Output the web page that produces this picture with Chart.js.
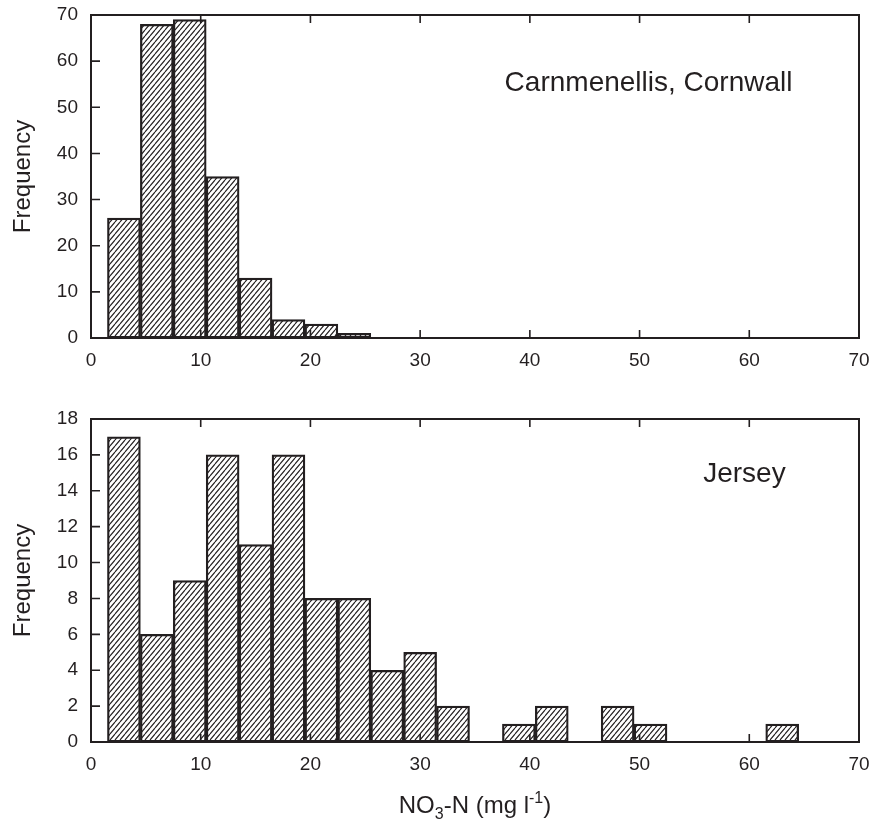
<!DOCTYPE html>
<html>
<head>
<meta charset="utf-8">
<script src="https://cdn.jsdelivr.net/npm/chart.js@4.4.0/dist/chart.umd.min.js"></script>
<style>
  body { margin: 0; background: #fff; }
  #wrap { position: relative; width: 885px; height: 831px; }
  canvas { position: absolute; left: 0; }
  #topChart { top: 0; }
  #bottomChart { top: 380px; }
</style>
</head>
<body>
<div id="wrap">
  <canvas id="topChart" width="885" height="380"></canvas>
  <canvas id="bottomChart" width="885" height="451"></canvas>
</div>
<script>
// --- data: NO3-N histograms, bins 3 mg/l wide ---
const binCentres = [3, 6, 9, 12, 15, 18, 21, 24, 27, 30, 33, 36, 39, 42, 45, 48, 51, 54, 57, 60, 63];
const cornwallFreq = [26, 68, 69, 35, 13, 4, 3, 1, 0, 0, 0, 0, 0, 0, 0, 0, 0, 0, 0, 0, 0];
const jerseyFreq = [17, 6, 9, 16, 11, 16, 8, 8, 4, 5, 2, 0, 1, 2, 0, 2, 1, 0, 0, 0, 1];
const xTicks = [0, 10, 20, 30, 40, 50, 60, 70];
const cornwallYTicks = [0, 10, 20, 30, 40, 50, 60, 70];
const jerseyYTicks = [0, 2, 4, 6, 8, 10, 12, 14, 16, 18];

const INK = '#231f20';
const FONT = '"Liberation Sans", Arial, Helvetica, sans-serif';

// diagonal hatch fill like the printed figure
function hatchPattern() {
    const w = 5, h = 6;
    const c = document.createElement('canvas');
    c.width = w; c.height = h;
    const g = c.getContext('2d');
    g.strokeStyle = INK;
    g.lineWidth = 1.15;
    g.beginPath();
    g.moveTo(0, h); g.lineTo(w, 0);
    g.moveTo(-w, h); g.lineTo(0, 0);
    g.moveTo(w, h); g.lineTo(2 * w, 0);
    g.stroke();
    return g.createPattern(c, 'repeat');
}

// box around the plot + ticks pointing inwards (left, top, bottom)
const frameTicks = {
    id: 'frameTicks',
    afterDraw(chart) {
        const { ctx, chartArea: a, scales: { x, y } } = chart;
        ctx.save();
        ctx.strokeStyle = INK;
        ctx.lineWidth = 1.6;
        ctx.beginPath();
        x.ticks.forEach(t => {
            const px = x.getPixelForValue(t.value);
            if (px <= a.left + 1 || px >= a.right - 1) return;
            ctx.moveTo(px, a.bottom); ctx.lineTo(px, a.bottom - 8);
            ctx.moveTo(px, a.top); ctx.lineTo(px, a.top + 8);
        });
        y.ticks.forEach(t => {
            const py = y.getPixelForValue(t.value);
            if (py <= a.top + 1 || py >= a.bottom - 1) return;
            ctx.moveTo(a.left, py); ctx.lineTo(a.left + 9, py);
        });
        ctx.stroke();
        ctx.lineWidth = 2;
        ctx.strokeRect(a.left, a.top, a.right - a.left, a.bottom - a.top);
        ctx.restore();
    }
};

// site name inside the panel, placed in data units
const panelLabel = {
    id: 'panelLabel',
    afterDraw(chart, args, opts) {
        if (!opts.text) return;
        const { ctx, scales: { x, y } } = chart;
        ctx.save();
        ctx.font = '28px ' + FONT;
        ctx.fillStyle = INK;
        ctx.textAlign = 'left';
        ctx.textBaseline = 'alphabetic';
        ctx.fillText(opts.text, x.getPixelForValue(opts.x), y.getPixelForValue(opts.y));
        ctx.restore();
    }
};

// x title with subscript / superscript: NO3-N (mg l-1)
const xTitle = {
    id: 'xTitle',
    afterDraw(chart, args, opts) {
        if (!opts.show) return;
        const { ctx, chartArea: a } = chart;
        const big = '24px ' + FONT, small = '16px ' + FONT;
        const parts = [
            { t: 'NO', f: big, dy: 0 },
            { t: '3', f: small, dy: 6 },
            { t: '-N (mg l', f: big, dy: 0 },
            { t: '-1', f: small, dy: -10 },
            { t: ')', f: big, dy: 0 }
        ];
        ctx.save();
        ctx.fillStyle = INK;
        ctx.textBaseline = 'alphabetic';
        ctx.textAlign = 'left';
        let total = 0;
        parts.forEach(p => { ctx.font = p.f; p.w = ctx.measureText(p.t).width; total += p.w; });
        let cx = (a.left + a.right) / 2 - total / 2;
        const base = a.bottom + opts.offset;
        parts.forEach(p => {
            ctx.font = p.f;
            ctx.fillText(p.t, cx, base + p.dy);
            cx += p.w;
        });
        ctx.restore();
    }
};

function makeChart(id, freq, yTicks, yMax, padTop, xAxisHeight, label, showTitle) {
    const ctx = document.getElementById(id).getContext('2d');
    return new Chart(ctx, {
        type: 'bar',
        data: {
            datasets: [{
                data: binCentres.map((c, i) => ({ x: c, y: freq[i] })),
                backgroundColor: hatchPattern(),
                borderColor: INK,
                borderWidth: 1.6,
                borderSkipped: false,
                categoryPercentage: 1,
                barPercentage: 1
            }]
        },
        options: {
            responsive: false,
            animation: false,
            layout: { padding: { top: padTop, right: 26, left: 0, bottom: 0 } },
            scales: {
                x: {
                    type: 'linear',
                    min: 0, max: 70,
                    offset: false,
                    afterBuildTicks: s => { s.ticks = xTicks.map(v => ({ value: v })); },
                    afterFit: s => { s.height = xAxisHeight; s.paddingLeft = 0; s.paddingRight = 0; },
                    grid: { display: false, drawTicks: false, offset: false },
                    border: { display: false },
                    ticks: { padding: 11, color: INK, font: { family: FONT, size: 19 }, maxRotation: 0 }
                },
                y: {
                    min: 0, max: yMax,
                    afterBuildTicks: s => { s.ticks = yTicks.map(v => ({ value: v })); },
                    afterFit: s => { s.width = 91; s.paddingTop = 0; s.paddingBottom = 0; },
                    grid: { display: false, drawTicks: false },
                    border: { display: false },
                    ticks: { padding: 13, color: INK, font: { family: FONT, size: 19 } },
                    title: {
                        display: true, text: 'Frequency', color: INK,
                        font: { family: FONT, size: 24 },
                        padding: { top: 9, bottom: 0 }
                    }
                }
            },
            plugins: {
                legend: { display: false },
                tooltip: { enabled: false },
                panelLabel: label,
                xTitle: { show: showTitle, offset: 71 }
            }
        },
        plugins: [frameTicks, panelLabel, xTitle]
    });
}

window.topChart = makeChart('topChart', cornwallFreq, cornwallYTicks, 70, 15, 42,
    { text: 'Carnmenellis, Cornwall', x: 37.7, y: 53.5 }, false);
window.bottomChart = makeChart('bottomChart', jerseyFreq, jerseyYTicks, 18, 39, 89,
    { text: 'Jersey', x: 55.8, y: 14.5 }, true);
</script>
</body>
</html>
